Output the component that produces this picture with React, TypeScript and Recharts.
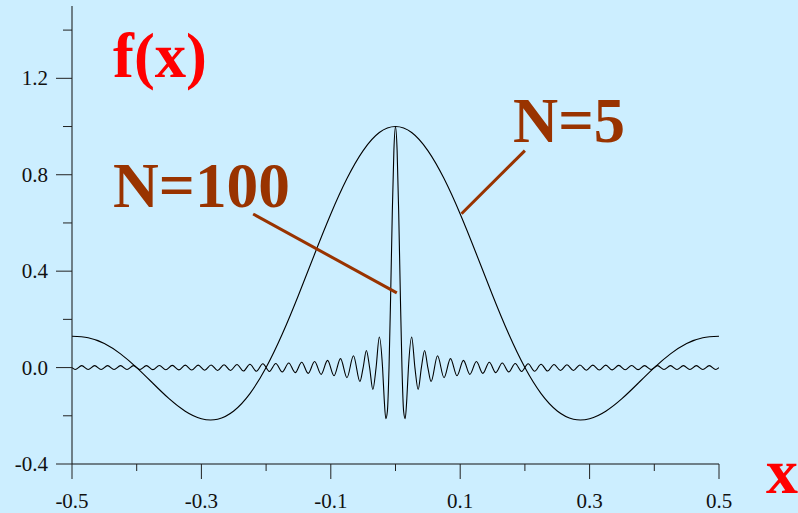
import React from 'react'
import { LineChart, Line, XAxis, YAxis, ReferenceLine } from 'recharts'

// ---------------------------------------------------------------------------
// Data
// ---------------------------------------------------------------------------

const xTicks = [-0.5, -0.4, -0.3, -0.2, -0.1, 0, 0.1, 0.2, 0.3, 0.4, 0.5]
const xLabelled = [-0.5, -0.3, -0.1, 0.1, 0.3, 0.5]
const yTicks = [-0.4, -0.2, 0, 0.2, 0.4, 0.6, 0.8, 1, 1.2, 1.4]
const yLabelled = [-0.4, 0, 0.4, 0.8, 1.2]

// N = 5 curve
const n5X = [
  -0.5, -0.475, -0.45, -0.425, -0.4, -0.375, -0.35, -0.325, -0.3, -0.275,
  -0.25, -0.225, -0.2, -0.175, -0.15, -0.125, -0.1, -0.075, -0.05, -0.025,
  0,
  0.025, 0.05, 0.075, 0.1, 0.125, 0.15, 0.175, 0.2, 0.225, 0.25,
  0.275, 0.3, 0.325, 0.35, 0.375, 0.4, 0.425, 0.45, 0.475, 0.5,
]
const n5Y = [
  0.13, 0.124, 0.1, 0.057, 0, -0.065, -0.129, -0.181, -0.212, -0.214,
  -0.18, -0.108, 0, 0.139, 0.3, 0.471, 0.637, 0.784, 0.9, 0.975,
  1,
  0.975, 0.9, 0.784, 0.637, 0.471, 0.3, 0.139, 0, -0.108, -0.18,
  -0.214, -0.212, -0.181, -0.129, -0.065, 0, 0.057, 0.1, 0.124, 0.13,
]

// N = 100 curve: centre lobe, then the extrema of every ripple
const n100X = [
  -0.5, -0.495, -0.485, -0.475, -0.465, -0.455, -0.445, -0.435, -0.425, -0.415,
  -0.405, -0.395, -0.385, -0.375, -0.365, -0.355, -0.345, -0.335, -0.325, -0.315,
  -0.305, -0.295, -0.285, -0.275, -0.265, -0.255, -0.245, -0.235, -0.225, -0.215,
  -0.205, -0.195, -0.185, -0.175, -0.165, -0.155, -0.145, -0.135, -0.125, -0.115,
  -0.105, -0.095, -0.085, -0.075, -0.065, -0.055,
  -0.05, -0.045, -0.04, -0.035, -0.03, -0.025,
  -0.02, -0.0175, -0.015, -0.0125, -0.01, -0.0075, -0.005, -0.0025,
  0,
  0.0025, 0.005, 0.0075, 0.01, 0.0125, 0.015, 0.0175, 0.02,
  0.025, 0.03, 0.035, 0.04, 0.045, 0.05,
  0.055, 0.065, 0.075, 0.085, 0.095, 0.105, 0.115, 0.125, 0.135, 0.145,
  0.155, 0.165, 0.175, 0.185, 0.195, 0.205, 0.215, 0.225, 0.235, 0.245,
  0.255, 0.265, 0.275, 0.285, 0.295, 0.305, 0.315, 0.325, 0.335, 0.345,
  0.355, 0.365, 0.375, 0.385, 0.395, 0.405, 0.415, 0.425, 0.435, 0.445,
  0.455, 0.465, 0.475, 0.485, 0.495, 0.5,
]
const n100Y = [
  0, -0.008, 0.008, -0.008, 0.008, -0.008, 0.008, -0.008, 0.008, -0.008,
  0.008, -0.008, 0.0083, -0.0085, 0.0087, -0.009, 0.009, -0.0095, 0.01, -0.01,
  0.01, -0.011, 0.011, -0.012, 0.012, -0.012, 0.013, -0.014, 0.014, -0.015,
  0.016, -0.016, 0.017, -0.018, 0.019, -0.021, 0.022, -0.024, 0.025, -0.028,
  0.03, -0.034, 0.037, -0.042, 0.049, -0.058,
  0, 0.071, 0, -0.091, 0, 0.127,
  0, -0.129, -0.212, -0.18, 0, 0.3, 0.637, 0.9,
  1,
  0.9, 0.637, 0.3, 0, -0.18, -0.212, -0.129, 0,
  0.127, 0, -0.091, 0, 0.071, 0,
  -0.058, 0.049, -0.042, 0.037, -0.034, 0.03, -0.028, 0.025, -0.024, 0.022,
  -0.021, 0.019, -0.018, 0.017, -0.016, 0.016, -0.015, 0.014, -0.014, 0.013,
  -0.012, 0.012, -0.012, 0.011, -0.011, 0.01, -0.01, 0.01, -0.0095, 0.009,
  -0.009, 0.0087, -0.0085, 0.0083, -0.008, 0.008, -0.008, 0.008, -0.008, 0.008,
  -0.008, 0.008, -0.008, 0.008, -0.008, 0,
]

// leader lines from the labels to the curves, in data units
const n100Leader = [{ x: -0.22, y: 0.637 }, { x: 0.002, y: 0.31 }]
const n5Leader = [{ x: 0.2, y: 0.9 }, { x: 0.102, y: 0.638 }]

const n5Data = n5X.map((x, i) => ({ x, y: n5Y[i] }))
const n100Data = n100X.map((x, i) => ({ x, y: n100Y[i] }))

// ---------------------------------------------------------------------------
// Styling
// ---------------------------------------------------------------------------

const BG = '#cceeff'
const BROWN = '#993300'
const RED = '#ff0000'
const serif = "'Liberation Serif', 'Times New Roman', serif"

function YTick(props: any) {
  const { x, y, payload } = props
  const major = yLabelled.includes(payload.value)
  return (
    <g>
      <line x1={x - (major ? 16 : 9)} x2={x} y1={y} y2={y} stroke="#222" strokeWidth={1} />
      {major && (
        <text x={x - 24} y={y} dy="0.33em" textAnchor="end" fontFamily={serif} fontSize={21} fill="#111">
          {payload.value.toFixed(1)}
        </text>
      )}
    </g>
  )
}

function XTick(props: any) {
  const { x, y, payload } = props
  const major = xLabelled.includes(payload.value)
  return (
    <g>
      <line x1={x} x2={x} y1={y} y2={y + (major ? 15 : 7)} stroke="#222" strokeWidth={1} />
      {major && (
        <text x={x} y={y + 44} textAnchor="middle" fontFamily={serif} fontSize={21} fill="#111">
          {payload.value.toFixed(1)}
        </text>
      )}
    </g>
  )
}

export default function App() {
  return (
    <div style={{ width: 798, height: 513, background: BG, overflow: 'hidden' }}>
      <style>{'body{margin:0}'}</style>
      <LineChart width={798} height={513} margin={{ top: 6, right: 79, bottom: 0, left: 0 }}>
        <XAxis
          type="number"
          dataKey="x"
          domain={[-0.5, 0.5]}
          ticks={xTicks}
          interval={0}
          height={49}
          tickSize={0}
          tickMargin={0}
          tickLine={false}
          axisLine={{ stroke: '#111', strokeWidth: 1 }}
          tick={<XTick />}
          allowDataOverflow
        />
        <YAxis
          type="number"
          dataKey="y"
          domain={[-0.4, 1.5]}
          ticks={yTicks}
          interval={0}
          width={72}
          tickSize={0}
          tickMargin={0}
          tickLine={false}
          axisLine={{ stroke: '#111', strokeWidth: 1 }}
          tick={<YTick />}
          allowDataOverflow
        />
        <Line
          data={n5Data}
          dataKey="y"
          type="natural"
          stroke="#000"
          strokeWidth={1.1}
          dot={false}
          isAnimationActive={false}
        />
        <Line
          data={n100Data}
          dataKey="y"
          type="monotone"
          stroke="#000"
          strokeWidth={1.1}
          dot={false}
          isAnimationActive={false}
        />
        <ReferenceLine segment={n100Leader} stroke={BROWN} strokeWidth={3} />
        <ReferenceLine segment={n5Leader} stroke={BROWN} strokeWidth={3} />
        <text x={113} y={77} fontFamily={serif} fontWeight="bold" fontSize={64} fill={RED} textLength={94} lengthAdjust="spacingAndGlyphs">
          f(x)
        </text>
        <text x={113} y={207} fontFamily={serif} fontWeight="bold" fontSize={64} fill={BROWN} textLength={177} lengthAdjust="spacingAndGlyphs">
          N=100
        </text>
        <text x={513} y={142} fontFamily={serif} fontWeight="bold" fontSize={64} fill={BROWN} textLength={112} lengthAdjust="spacingAndGlyphs">
          N=5
        </text>
        <text x={766} y={493} fontFamily={serif} fontWeight="bold" fontSize={64} fill={RED}>
          x
        </text>
      </LineChart>
    </div>
  )
}
